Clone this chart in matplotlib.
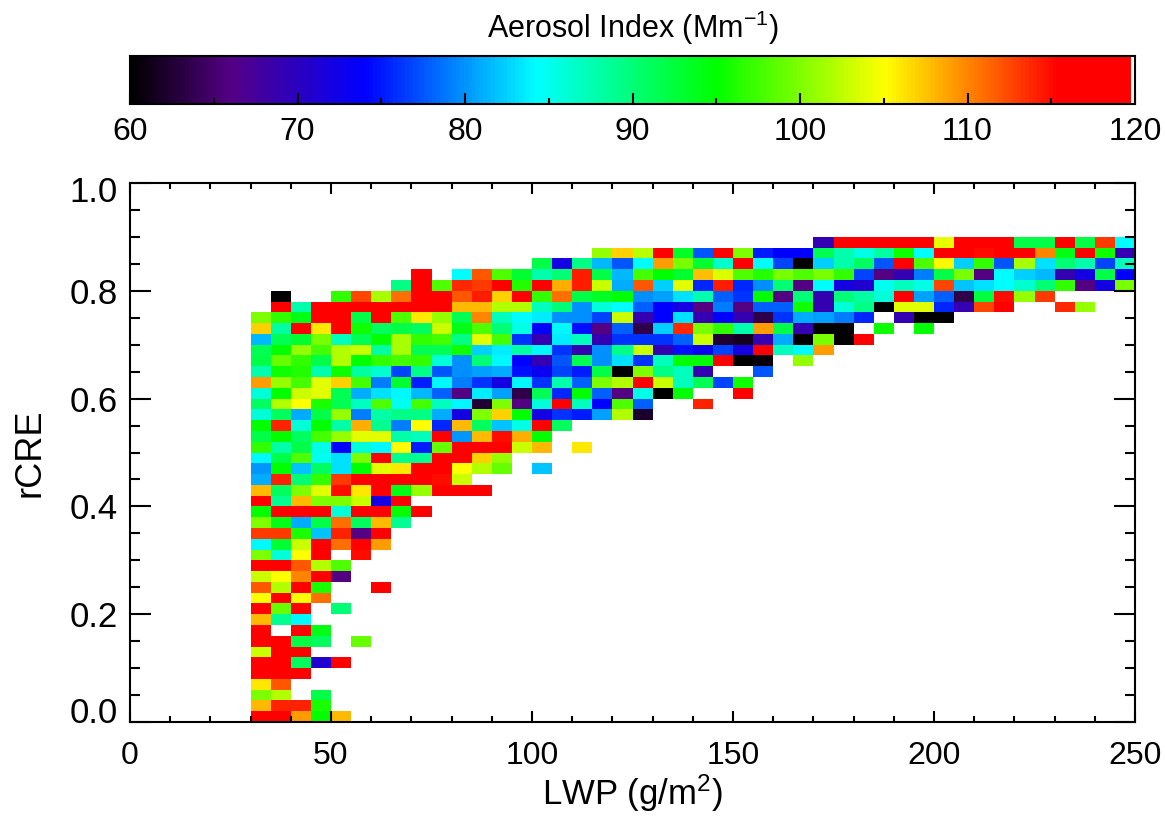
import numpy as np
import matplotlib
matplotlib.use("Agg")
import matplotlib.pyplot as plt
from matplotlib.colors import LinearSegmentedColormap, ListedColormap
from matplotlib.ticker import MultipleLocator
from matplotlib.transforms import ScaledTranslation

plt.rcParams['font.family'] = ['Liberation Sans', 'DejaVu Sans']
plt.rcParams['mathtext.fontset'] = 'custom'
plt.rcParams['mathtext.rm'] = 'Liberation Sans'
plt.rcParams['mathtext.default'] = 'rm'

_ = np.nan   # empty bin
R = 118      # saturated red bins

# Aerosol index per bin, rCRE bins from the bottom, LWP bins from 30 g/m2
row_00 = [R, R, 109, 95, 108]
row_01 = [108, 114, 114, 96]
row_02 = [100, 102, _, 92]
row_03 = [106, 112]
row_04 = [R, R, R]
row_05 = [R, R, 91, 71, R]
row_06 = [103, R, R]
row_07 = [R, R, 92, 91, _, 99]
row_08 = [R, _, R, 94]
row_09 = [108, 89, 84]
row_10 = [R, 99, R, _, 90]
row_11 = [105, R, 105, 111]
row_12 = [112, 102, R, 96, _, _, R]
row_13 = [103, 105, 110, R, 66]
row_14 = [R, R, 112, 102, 98]
row_15 = [100, 86, 105, R, _, 115]
row_16 = [84, 93, 103, R, 111, R, 109]
row_17 = [113, 113, 96, 82, 114, 66, R]
row_18 = [100, 94, 81, 92, 111, 91, 108, 89]
row_19 = [95, R, R, R, 86, R, R, 95, R]
row_20 = [R, 89, 108, 100, 100, 103, 72, R]
row_21 = [108, 91, 100, 104, 115, 106, R, 94, 101, R, R, R]
row_22 = [81, 114, 90, 97, 113, R, R, R, R, 115, 103]
row_23 = [80, 95, 82, 91, 83, 95, 104, 106, R, R, 105, 102, 99, _, 82]
row_24 = [84, 92, 98, 85, 83, 100, R, 89, 89, R, R, 107, 101]
row_25 = [97, 88, 92, 85.5, 74, 86, 84, 105, 75, 99, R, R, R, 103, 108, _, 106]
row_26 = [92, 95, 91, 97.5, 101, 104, 104, 88, 87, R, 80, 108, 115, 108.5, 95]
row_27 = [95, 114, 86, 95, 88, 108.5, 89, 79, 105, 75.5, 108, 91, 82, 85.5, R, 91]
row_28 = [86, 91, 81, 92, 101, 79, 88, 89.5, 89.5, 81, 72, 100, 107, 95, 72, 76, 75, 80.5, 102, 62]
row_29 = [91, 102, 105, 96, 91.5, 87, 98, 85, 97.5, 87, 84, 62.5, 100, 66, 86, R, 87, 74, 98, 78,
          _, _, 114]
row_30 = [86, 95, 103, 104, 91.5, 81, 83, 84, 81.5, 78, 66, 83.5, 80.5, 63.5, 91.5, 75.5, 95, 78, 66,
          85.5, 60, 95, _, _, R]
row_31 = [109, 101, 97.5, 104, 107, 97.5, 79, 93, 75, 84, 79, 76, 72, 84, 76, 87.7, 78, 100, 102, R,
          103, 87, 91.5, 76.7, 95.5]
row_32 = [87.7, 95.5, 96.3, 87.7, 95.5, 88.3, 86.3, 76.7, 89.5, 77.5, 79.7, 80.5, 81, 74.7, 73, 76.7,
          75, 92, 60, 100, 89.5, 87, 69, _, _, 77.5]
row_33 = [92, 99, 97, 92, 102, 95, 97, 97.5, 97, 86, 79.7, 90, 84, 74, 69, 77.5, 91.5, 79.7, 83, 76,
          87, 95, 95, R, 60, 60.5, _, 101]
row_34 = [91.5, 95, 101, 97.5, 102, 103, 88.3, 101.7, 91.5, 91.5, 95.5, 82.3, 83.5, 88.3, 84, 76, 69,
          79.7, 89.5, 103, 69, 74.7, 73, 76.7, 72, R, 87, 84.3, 109]
row_35 = [81.5, 91.5, 93, 99.7, 87, 91.5, 95, 101.7, 97, 97.5, 89.5, 104, 97.5, 76, 69, 83.5, 87, 69,
          76, 76, 76, 78, 103, 62.5, 61.5, 69, 81, 60, 99.7, 60, R]
row_36 = [107, 88.3, R, 106, R, 95.5, 91, 92, 91, 103, 94, 98, 90, 85.5, 74, 84, 74.7, 66, 78, 63.5,
          82.3, 113.7, 99.7, 97, 87.7, 109, 92, 69, 60, 60, _, 95.5, _, 95]
row_37 = [100, 97, 94, R, R, 92, R, 98, 106, 101, 91.5, 110, 87, 84.3, 83.5, 79.7, 79.7, 76.7, 103,
          69, 74, 83, 69, 74, 69, 63.5, 76, 81, 80.5, 79, 75.5, _, 69, 60, 60]
row_38 = [_, R, 87.7, R, R, R, R, R, R, R, 108, 108, 102, 102, 87, 90, 79.7, 86, 84.3, 78, 74, 72, 66,
          79, 66, 78, 78, 95.5, 69, 86, 89.5, 60, 104, 104, 75.5, 69, 112.7, R, _, _, 113.7, 101]
row_39 = [_, 60, _, _, 97, 112.7, 101.7, 111, R, R, 112, 114.3, 107, R, 97, 111, 92, 93.5, 95, 79.7,
          80.5, 83, 87.7, 78, 76, 95, 66, 90, 69, 90, 88.3, 86, R, 80.5, 78, 63.5, 92.5, 115, 101, 113]
row_40 = [_, _, _, _, _, _, _, 89.5, R, 98, 113.7, 113, R, 96.3, R, 108.5, 114.3, 103, 81, 112, 82.3,
          104, 75.5, 114.3, 75.5, 79.7, 90, 66, 84.3, 72, 71, 85, 87, 85.5, 112.7, 82, 83, 84.3, 86.3,
          90, 97, 66, 72, 99.7]
row_41 = [_, _, _, _, _, _, _, _, R, _, 84.3, 112, 98, 93, 87.7, 90, 114.3, 92, 81.5, 97.5, 95, 93,
          107.8, 103.7, 98, 96.5, 99.7, 98, 99.7, 97, 76.7, 66, 69, 79, 92, 99.7, 66, 84.3, 82.3, 81.5,
          69, 72, 92, 74]
row_42 = [_, _, _, _, _, _, _, _, _, _, _, _, _, _, 92, 72, 89.5, 81.5, 77.5, 84.3, 109.2, 99.7, 93,
          86.3, R, 84.3, 76.7, 60, 82.3, 87.7, 91, 77.5, R, 98, 105.3, 82.3, 97, 77.5, 101.7, 83, 90,
          87.7, 76.7, 87]
row_43 = [_, _, _, _, _, _, _, _, _, _, _, _, _, _, _, _, _, 101, 107, 102.2, R, 93.5, 77.5, R, 100,
          75, 74, 74, 91.5, 87.7, 85.5, 88.3, 95.5, 84.3, R, R, 115, R, R, 110, 94, R, 95.5, 69]
row_44 = [_, _, _, _, _, _, _, _, _, _, _, _, _, _, _, _, _, _, _, _, _, _, _, _, _, _, _, _, 69,
          R, R, R, R, R, 104.2, R, R, R, 92, 92, R, 92, 113, 84.3]

rows = [row_00, row_01, row_02, row_03, row_04, row_05, row_06, row_07, row_08, row_09,
        row_10, row_11, row_12, row_13, row_14, row_15, row_16, row_17, row_18, row_19,
        row_20, row_21, row_22, row_23, row_24, row_25, row_26, row_27, row_28, row_29,
        row_30, row_31, row_32, row_33, row_34, row_35, row_36, row_37, row_38, row_39,
        row_40, row_41, row_42, row_43, row_44]

lwp_edges = np.arange(30, 251, 5)
rcre_edges = np.arange(46) * 0.02

# pad the rows out to the full grid
grid = np.full((len(rows), len(lwp_edges) - 1), np.nan)
for i, row in enumerate(rows):
    grid[i, :len(row)] = row

# IDL style rainbow, the last of the 256 colours is white
base = LinearSegmentedColormap.from_list("rainbow_idl", [
    (0.0, (0, 0, 0)),
    (0.1, (0.33, 0, 0.52)),
    (0.233, (0, 0, 1)),
    (0.405, (0, 1, 1)),
    (0.583, (0, 1, 0)),
    (0.753, (1, 1, 0)),
    (0.925, (1, 0, 0)),
    (1.0, (1, 0, 0)),
], N=256)
colors = base(np.linspace(0, 1, 256))
colors[-1] = (1, 1, 1, 1)
cmap = ListedColormap(colors)

W, H = 1165, 819
fig = plt.figure(figsize=(W / 100, H / 100), dpi=100)


def px_axes(left, top, right, bottom):
    return fig.add_axes([left / W, 1 - bottom / H, (right - left) / W, (bottom - top) / H])


LINE = 1.5

# main panel
ax = px_axes(130, 183, 1135, 722)
ax.pcolormesh(lwp_edges, rcre_edges, np.ma.masked_invalid(grid), cmap=cmap, vmin=60, vmax=120,
              linewidth=0, rasterized=True)
ax.set_xlim(0, 250)
ax.set_ylim(0, 1)
ax.xaxis.set_major_locator(MultipleLocator(50))
ax.xaxis.set_minor_locator(MultipleLocator(10))
ax.yaxis.set_major_locator(MultipleLocator(0.2))
ax.yaxis.set_minor_locator(MultipleLocator(0.05))
ax.tick_params(axis='x', which='major', direction='in', top=True, length=8, width=LINE,
               labelsize=23, pad=14)
ax.tick_params(axis='x', which='minor', direction='in', top=True, length=4, width=LINE)
ax.tick_params(axis='y', which='major', direction='in', right=True, length=15, width=LINE,
               labelsize=25, pad=9)
ax.tick_params(axis='y', which='minor', direction='in', right=True, length=7.5, width=LINE)
ax.set_yticks(np.arange(0, 1.01, 0.2))
ax.set_yticklabels(['0.0', '0.2', '0.4', '0.6', '0.8', '1.0'])
ax.set_xlabel("LWP (g/m$^{2}$)", fontsize=25, va='top')
ax.set_ylabel("rCRE", fontsize=26, va='center')
ax.xaxis.set_label_coords(0.5, -51 / 539)
ax.yaxis.set_label_coords(-100 / 1005, 0.5)
for s in ax.spines.values():
    s.set_linewidth(LINE)

# end labels of the y axis sit inside the axis range
labels = ax.get_yticklabels()
labels[0].set_transform(labels[0].get_transform() + ScaledTranslation(0, 12 / 100, fig.dpi_scale_trans))
labels[-1].set_transform(labels[-1].get_transform() + ScaledTranslation(0, -6 / 100, fig.dpi_scale_trans))

# colour bar
cax = px_axes(130, 56, 1135, 104)
gradient = np.linspace(60, 120, 256)[np.newaxis, :]
cax.imshow(gradient, cmap=cmap, vmin=60, vmax=120, aspect='auto', extent=[60, 120, 0, 1],
           interpolation='nearest')
cax.set_yticks([])
cax.xaxis.set_major_locator(MultipleLocator(10))
cax.xaxis.set_minor_locator(MultipleLocator(5))
cax.tick_params(axis='x', which='major', direction='in', length=8, width=LINE, labelsize=23, pad=9)
cax.tick_params(axis='x', which='minor', direction='in', length=4, width=LINE)
cax.set_title("Aerosol Index (Mm$^{-1}$)", fontsize=22, pad=13)
for s in cax.spines.values():
    s.set_linewidth(LINE)

fig.savefig("out.png", dpi=100)
